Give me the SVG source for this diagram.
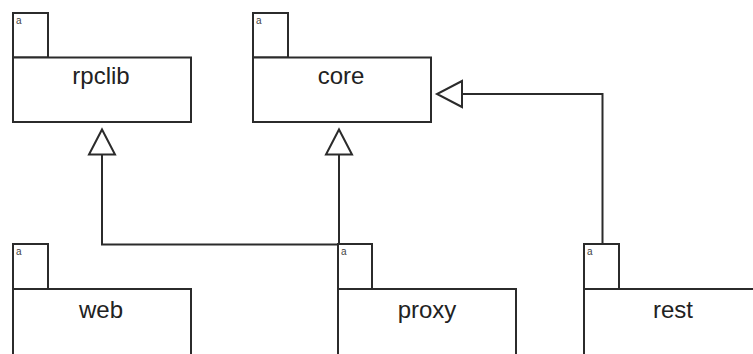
<svg xmlns="http://www.w3.org/2000/svg" width="753" height="354" viewBox="0 0 753 354">
  <style>
    .box { fill: #ffffff; stroke: #2b2b2b; stroke-width: 2; }
    .name { font-family: "Liberation Sans", Arial, sans-serif; font-size: 24px; fill: #222222; text-anchor: middle; }
    .tag { font-family: "Liberation Sans", Arial, sans-serif; font-size: 10px; fill: #444444; }
    .link { fill: none; stroke: #2b2b2b; stroke-width: 2; marker-end: url(#extends); }
  </style>
  <defs>
    <!-- hollow triangle for generalization -->
    <marker id="extends" viewBox="0 0 26 28" refX="26" refY="14" markerWidth="26" markerHeight="28" markerUnits="userSpaceOnUse" orient="auto" overflow="visible">
      <path d="M1,1 L26,14 L1,27 Z" fill="#ffffff" stroke="#2b2b2b" stroke-width="2" stroke-linejoin="miter"/>
    </marker>
  </defs>
  <rect width="753" height="354" fill="#ffffff"/>

  <g id="rpclib">
    <rect class="box" x="13" y="13" width="35" height="44.5"/>
    <rect class="box" x="13" y="57.5" width="178" height="64.5"/>
    <text class="tag" x="16" y="23.5">a</text>
    <text class="name" x="101" y="83.5">rpclib</text>
  </g>

  <g id="core">
    <rect class="box" x="253" y="13" width="35" height="44.5"/>
    <rect class="box" x="253" y="57.5" width="178" height="64.5"/>
    <text class="tag" x="256" y="23.5">a</text>
    <text class="name" x="341" y="83.5">core</text>
  </g>

  <g id="web">
    <rect class="box" x="13" y="244" width="35" height="45"/>
    <rect class="box" x="13" y="289" width="178" height="80"/>
    <text class="tag" x="16" y="255">a</text>
    <text class="name" x="101" y="317.5">web</text>
  </g>

  <g id="proxy">
    <rect class="box" x="338" y="244" width="34" height="45"/>
    <rect class="box" x="338" y="289" width="178" height="80"/>
    <text class="tag" x="341" y="255">a</text>
    <text class="name" x="427" y="317.5">proxy</text>
  </g>

  <g id="rest">
    <rect class="box" x="584" y="244" width="35" height="45"/>
    <rect class="box" x="584" y="289" width="178" height="80"/>
    <text class="tag" x="587" y="255">a</text>
    <text class="name" x="673" y="317.5">rest</text>
  </g>

  <g id="connectors">
    <path class="link" d="M338,244.5 L102,244.5 L102,129.5"/>
    <path class="link" d="M339,244 L339,129.5"/>
    <path class="link" d="M602.5,244 L602.5,94 L437,94"/>
  </g>
</svg>
